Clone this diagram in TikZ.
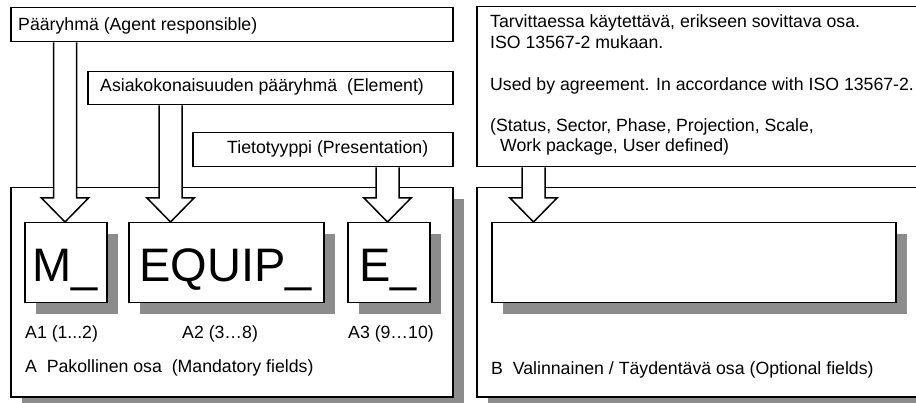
\documentclass[tikz,border=0pt]{standalone}
\usepackage{fontspec}
\setmainfont{Liberation Sans}
\usetikzlibrary{calc}
\definecolor{shadowgray}{RGB}{140,140,140}
\tikzset{
  outline/.style={draw=black, line width=1.5pt, fill=white, inner sep=0pt, anchor=north west},
  shade/.style={fill=shadowgray, draw=none},
  txt/.style={inner sep=0pt, anchor=base west, font=\fontsize{17.7}{20.6}\selectfont},
  big/.style={inner sep=0pt, anchor=base, font=\fontsize{47}{47}\selectfont},
  blockarr/.style={draw=black, line width=1.5pt, fill=white, line join=miter},
}
\newcommand\blockarrow[2]{%
  \draw[blockarr] ($(#2 |- #1.south)+(-11.5,0)$) -- ($(#2)+(-11.5,-24)$) -- ($(#2)+(-23.5,-24)$)
    -- (#2) -- ($(#2)+(23.5,-24)$) -- ($(#2)+(11.5,-24)$) -- ($(#2 |- #1.south)+(11.5,0)$);}
\begin{document}
\begin{tikzpicture}[x=1pt, y=-1pt]
\useasboundingbox (0,0) rectangle (916,403);
\clip (0,0) rectangle (916,403);
% containers
\fill[shade] (22,199) rectangle (464,408);
\fill[shade] (488,199) rectangle (942,408);
\node[outline, minimum width=442pt, minimum height=209pt] (A) at (10,187) {};
\node[outline, minimum width=454pt, minimum height=209pt] (B) at (476,187) {};
% label boxes
\node[outline, minimum width=442pt, minimum height=34pt] (L1) at (10,7) {};
\node[outline, minimum width=365pt, minimum height=33pt] (L2) at (87,71) {};
\node[outline, minimum width=260pt, minimum height=34pt] (L3) at (192,132) {};
\node[outline, minimum width=454pt, minimum height=160pt] (L4) at (476,6) {};
% tips
\coordinate (tipM) at (65,222);
\coordinate (tipQ) at (170.5,222);
\coordinate (tipE) at (387.5,222);
\coordinate (tipB) at (533.5,222);
% arrows
\blockarrow{L1}{tipM}
\blockarrow{L2}{tipQ}
\blockarrow{L3}{tipE}
\blockarrow{L4}{tipB}
% inner shadows
\fill[shade] (36,234) rectangle (118,314);
\fill[shade] (140,234) rectangle (335,314);
\fill[shade] (359,234) rectangle (441,314);
\fill[shade] (503,234) rectangle (907,314);
% inner boxes
\node[outline, minimum width=82pt, minimum height=80pt] (M) at (24,222) {};
\node[outline, minimum width=195pt, minimum height=80pt] (Q) at (128,222) {};
\node[outline, minimum width=82pt, minimum height=80pt] (E) at (347,222) {};
\node[outline, minimum width=404pt, minimum height=80pt] (Bf) at (491,222) {};
% big texts
\node[big] (tM) at (65,282) {M\_};
\node[big] (tQ) at (225.5,282) {EQUIP\_};
\node[big] (tE) at (388,282) {E\_};
% label texts
\node[txt] (s1) at (18,31) {Pääryhmä (Agent responsible)};
\node[txt] (s2) at (100,92) {Asiakokonaisuuden pääryhmä \ (Element)};
\node[txt] (s3) at (227,154) {Tietotyyppi (Presentation)};
\node[txt] (r1) at (490,28) {Tarvittaessa käytettävä, erikseen sovittava osa.};
\node[txt] (r2) at (490,49) {ISO 13567-2 mukaan.};
\node[txt] (r3) at (490,91) {Used by agreement. In accordance with ISO 13567-2.};
\node[txt] (r4) at (490,132) {(Status, Sector, Phase, Projection, Scale,};
\node[txt] (r5) at (500,152) {Work package, User defined)};
\node[txt] (a1) at (25,339) {A1 (1...2)};
\node[txt] (a2) at (182,339) {A2 (3…8)};
\node[txt] (a3) at (348,339) {A3 (9…10)};
\node[txt] (aA) at (25,373) {A\ \ Pakollinen osa \ (Mandatory fields)};
\node[txt] (aB) at (491,374) {B\ \ Valinnainen / Täydentävä osa (Optional fields)};
\end{tikzpicture}
\end{document}
